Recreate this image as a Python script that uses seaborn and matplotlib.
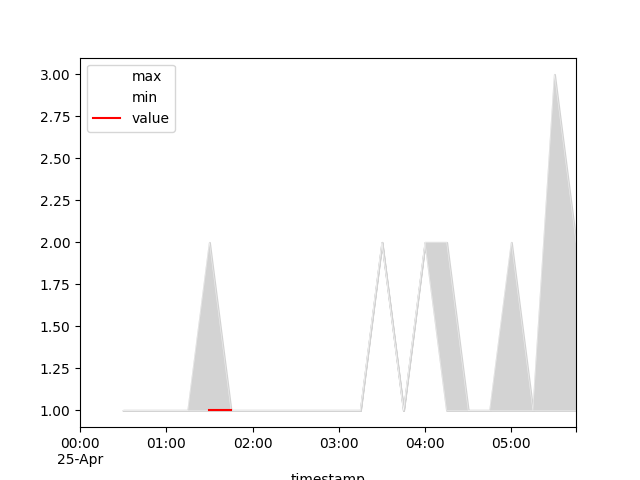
import numpy as np
import pandas as pd
import matplotlib
matplotlib.use("Agg")
import matplotlib.pyplot as plt
import seaborn as sns

nan = np.nan
timestamps = pd.date_range("2024-04-25 00:00", periods=24, freq="15min")
max_vals = [nan, nan, 1, 1, 1, 1, 2, 1, 1, 1, 1, 1, 1, 1, 2, 1, 2, 2, 1, 1, 2, 1, 3, 2]
min_vals = [nan, nan, 1, 1, 1, 1, 1, 1, 1, 1, 1, 1, 1, 1, 2, 1, 2, 1, 1, 1, 1, 1, 1, 1]
value_vals = [nan, nan, nan, nan, nan, nan, 1, 1, nan, nan, nan, nan,
              nan, nan, nan, nan, nan, nan, nan, nan, nan, nan, nan, nan]
tick_labels = ["00:00\n25-Apr", "01:00", "02:00", "03:00", "04:00", "05:00", ""]
tick_times = pd.to_datetime(["2024-04-25 00:00", "2024-04-25 01:00", "2024-04-25 02:00",
                             "2024-04-25 03:00", "2024-04-25 04:00", "2024-04-25 05:00",
                             "2024-04-25 05:45"])

df = pd.DataFrame({"timestamp": timestamps, "max": max_vals,
                   "min": min_vals, "value": value_vals})

fig, ax = plt.subplots(figsize=(6.4, 4.8), dpi=100)

ax.fill_between(df["timestamp"], df["min"], df["max"], color="lightgrey",
                linewidth=1.5, zorder=1)
sns.lineplot(data=df, x="timestamp", y="max", color="white", label="max",
             linewidth=0.4, alpha=0.6, ax=ax)
sns.lineplot(data=df, x="timestamp", y="min", color="white", label="min",
             linewidth=0.4, alpha=0.6, ax=ax)
sns.lineplot(data=df, x="timestamp", y="value", color="red", label="value",
             linewidth=1.5, ax=ax)

ax.set_xlim(timestamps[0], timestamps[-1])
ax.set_ylim(0.9, 3.1)
ax.set_xticks(tick_times)
ax.set_xticklabels(tick_labels)
ax.set_xlabel("timestamp")
ax.set_ylabel("")
ax.legend(loc="upper left")

fig.savefig("out.png", dpi=100)
